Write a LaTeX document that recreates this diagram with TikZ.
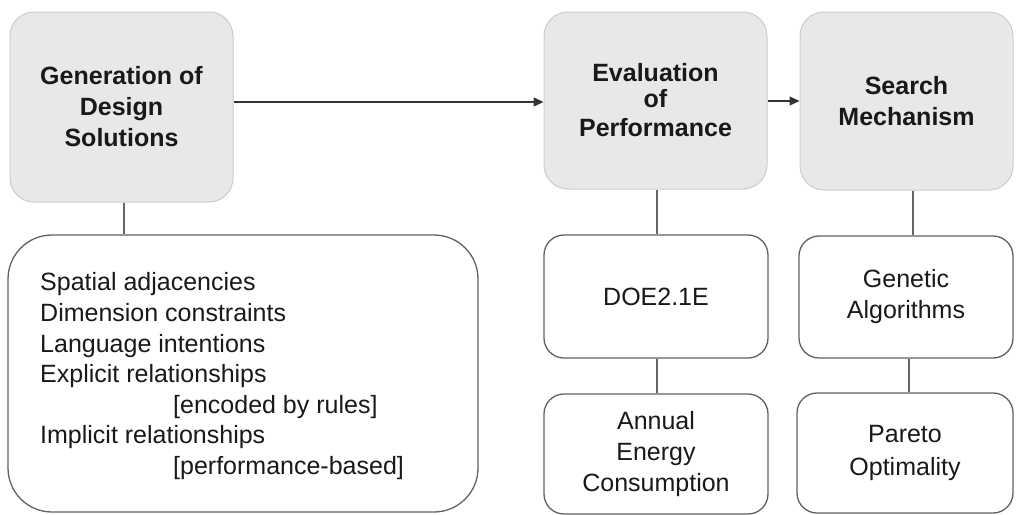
\documentclass[tikz,border=0pt]{standalone}
\usepackage{fontspec}
\setmainfont{Liberation Sans}
\usetikzlibrary{arrows.meta}
\begin{document}
\begin{tikzpicture}[x=1pt,y=-1pt,
  stage/.style={draw=black!20, fill=black!9, rounded corners=24pt, line width=1pt,
    font=\fontsize{25}{31}\selectfont\bfseries, text=black!90, align=center, inner sep=0pt},
  detail/.style={draw=black!62, fill=white, rounded corners=20pt, line width=1.3pt,
    font=\fontsize{25}{31}\selectfont, text=black!90, align=center, inner sep=0pt},
  link/.style={draw=black!60, line width=1.3pt},
  flow/.style={draw=black!80, line width=1.2pt, -{Triangle[length=10pt,width=9pt]}},
  item/.style={anchor=base west, inner sep=0pt, font=\fontsize{25}{31}\selectfont, text=black!90}
]
\useasboundingbox (0,0) rectangle (1016,514);

% top row: the three stages
\node[stage, minimum width=223pt, minimum height=190pt] (gen) at (121.5,107)
  {Generation of\\Design\\Solutions};
\node[stage, minimum width=223pt, minimum height=177pt] (eval) at (655.5,100.5)
  {Evaluation\\[-5pt]of\\[-2pt]Performance};
\node[stage, minimum width=213pt, minimum height=178pt] (search) at (906.5,101)
  {Search\\Mechanism};

% flow between stages
\draw[flow] (gen.east |- 0,102) -- (eval.west |- 0,102);
\draw[flow] (eval.east |- 0,101) -- (search.west |- 0,101);

% details under each stage
\node[detail, rounded corners=44pt, minimum width=470pt, minimum height=277pt] (list) at (243,373.5) {};
\node[item] (l1) at (40,290) {Spatial adjacencies};
\node[item] (l2) at (40,321) {Dimension constraints};
\node[item] (l3) at (40,352) {Language intentions};
\node[item] (l4) at (40,382) {Explicit relationships};
\node[item] (l5) at (173,413) {[encoded by rules]};
\node[item] (l6) at (40,443) {Implicit relationships};
\node[item] (l7) at (173,474) {[performance-based]};

\node[detail, minimum width=224pt, minimum height=123pt] (doe) at (656,296.5) {DOE2.1E};
\node[detail, minimum width=224pt, minimum height=120pt] (annual) at (656,454)
  {Annual\\Energy\\Consumption};
\node[detail, minimum width=214pt, minimum height=122pt] (genetic) at (906,297)
  {Genetic\\Algorithms};
\node[detail, minimum width=216pt, minimum height=120pt] (pareto) at (905,453)
  {Pareto\\[2pt]Optimality};

% vertical links
\draw[link] (gen.south -| 124,0) -- (list.north -| 124,0);
\draw[link] (eval.south -| 657,0) -- (doe.north -| 657,0);
\draw[link] (doe.south -| 657,0) -- (annual.north -| 657,0);
\draw[link] (search.south -| 913,0) -- (genetic.north -| 913,0);
\draw[link] (genetic.south -| 909,0) -- (pareto.north -| 909,0);
\end{tikzpicture}
\end{document}
